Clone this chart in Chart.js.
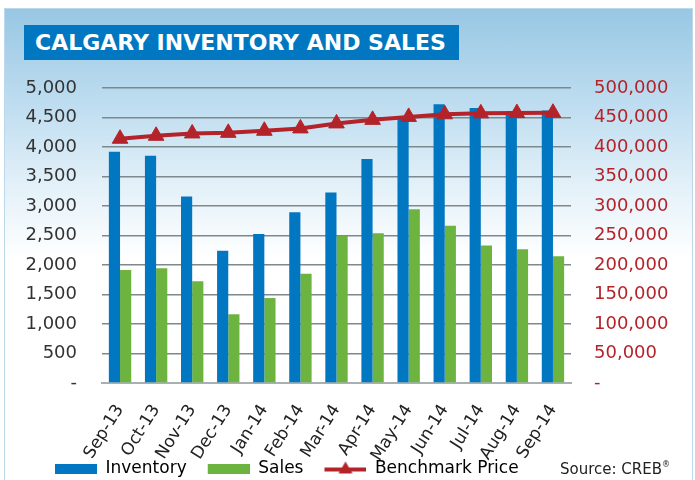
<!DOCTYPE html>
<html>
<head>
<meta charset="utf-8">
<script src="https://cdn.jsdelivr.net/npm/chart.js@4.4.1/dist/chart.umd.min.js"></script>
<style>
  html, body { margin: 0; padding: 0; background: #ffffff; }
  #wrap { position: relative; width: 695px; height: 480px; overflow: hidden; }
  #panel {
    position: absolute; left: 4px; top: 8px; right: 2px; bottom: -2px;
    border: 1px solid #bcd9ec;
    background: linear-gradient(to bottom, #98c7e4 0%, #c2dff1 22%, #e4f1f9 38%, #ffffff 53%, #ffffff 100%);
  }
  #title {
    position: absolute; left: 24px; top: 25px; width: 424px; height: 35px;
    padding-left: 11px; background: #0077c0; color: #ffffff;
    font: bold 22px "DejaVu Sans", sans-serif; line-height: 36px; white-space: nowrap;
  }
  #source {
    position: absolute; left: 560px; top: 460px;
    font: 15px "DejaVu Sans", sans-serif; color: #222222; white-space: nowrap;
  }
  #source sup { font-size: 8px; vertical-align: 7px; }
  canvas { position: absolute; left: 0; top: 0; }
</style>
</head>
<body>
<div id="wrap">
  <div id="panel"></div>
  <div id="title">CALGARY INVENTORY AND SALES</div>
  <canvas id="chart" width="695" height="480"></canvas>
  <div id="source">Source: CREB<sup>®</sup></div>
</div>
<script>
        var months = ['Sep-13', 'Oct-13', 'Nov-13', 'Dec-13', 'Jan-14', 'Feb-14', 'Mar-14',
                      'Apr-14', 'May-14', 'Jun-14', 'Jul-14', 'Aug-14', 'Sep-14'];
        var inventory = [3920, 3850, 3160, 2240, 2525, 2895, 3230, 3795, 4500, 4725, 4660, 4610, 4620];
        var sales = [1915, 1945, 1725, 1165, 1440, 1850, 2490, 2540, 2945, 2665, 2330, 2265, 2150];
        var benchmarkPrice = [414000, 419000, 423000, 424000, 427500, 431500, 440000,
                              446000, 451000, 455500, 457000, 457500, 458000];

        var blue = '#0077c0';
        var green = '#6db33f';
        var red = '#b5232a';

        Chart.defaults.font.family = '"DejaVu Sans", sans-serif';
        Chart.defaults.color = '#2a2a2a';

        // legend swatches, with a transparent strip on the left for item spacing
        function swatch(w, h, draw) {
            var c = document.createElement('canvas');
            c.width = w; c.height = h;
            draw(c.getContext('2d'));
            return c;
        }
        var invBox = swatch(59, 10, function (g) { g.fillStyle = blue; g.fillRect(17, 0, 42, 10); });
        var salesBox = swatch(59, 10, function (g) { g.fillStyle = green; g.fillRect(17, 0, 42, 10); });
        var priceMark = swatch(59, 16, function (g) {
            g.fillStyle = red;
            g.fillRect(17, 7, 42, 4);
            g.beginPath();
            g.moveTo(38, 1); g.lineTo(45, 13); g.lineTo(31, 13);
            g.closePath();
            g.fill();
        });

        function dash(v) {
            return v === 0 ? '-' : v.toLocaleString('en-US');
        }

        // labels reach past their box, do not clip them
        function noClip(scale) {
            scale._computeLabelArea = function () {};
        }

        const ctx = document.getElementById('chart');
        new Chart(ctx, {
            data: {
                labels: months,
                datasets: [{
                    type: 'line',
                    label: 'Benchmark Price',
                    data: benchmarkPrice,
                    yAxisID: 'y1',
                    borderColor: red,
                    borderWidth: 4,
                    pointStyle: 'triangle',
                    pointRadius: 9,
                    pointBackgroundColor: red,
                    pointBorderColor: red,
                    pointBorderWidth: 1,
                    order: 0
                }, {
                    type: 'bar',
                    label: 'Inventory',
                    data: inventory,
                    yAxisID: 'y',
                    backgroundColor: blue,
                    categoryPercentage: 0.62,
                    barPercentage: 1.0,
                    order: 1
                }, {
                    type: 'bar',
                    label: 'Sales',
                    data: sales,
                    yAxisID: 'y',
                    backgroundColor: green,
                    categoryPercentage: 0.62,
                    barPercentage: 1.0,
                    order: 1
                }]
            },
            options: {
                responsive: false,
                animation: false,
                layout: {
                    padding: { top: 88, left: 34, right: 0, bottom: -7 }
                },
                plugins: {
                    tooltip: { enabled: false },
                    legend: {
                        position: 'bottom',
                        align: 'start',
                        labels: {
                            usePointStyle: true,
                            pointStyleWidth: 59,
                            padding: 4,
                            color: '#2a2a2a',
                            font: { size: 17 },
                            generateLabels: function () {
                                return [
                                    { text: 'Inventory', pointStyle: invBox, fillStyle: blue, strokeStyle: blue, lineWidth: 0, hidden: false, datasetIndex: 1 },
                                    { text: 'Sales', pointStyle: salesBox, fillStyle: green, strokeStyle: green, lineWidth: 0, hidden: false, datasetIndex: 2 },
                                    { text: 'Benchmark Price', pointStyle: priceMark, fillStyle: red, strokeStyle: red, lineWidth: 0, hidden: false, datasetIndex: 0 }
                                ];
                            }
                        }
                    }
                },
                scales: {
                    x: {
                        grid: { display: false },
                        border: { color: '#a8b0b2', width: 2 },
                        ticks: {
                            color: '#222222',
                            font: { size: 17 },
                            minRotation: 58,
                            maxRotation: 58,
                            padding: 10
                        },
                        afterFit: function (scale) {
                            scale.height = 73;
                            noClip(scale);
                        }
                    },
                    y: {
                        position: 'left',
                        min: 0,
                        max: 5000,
                        border: { display: false },
                        grid: { color: '#7d8a8b', lineWidth: 1.5, drawTicks: false },
                        ticks: {
                            stepSize: 500,
                            color: '#333333',
                            font: { size: 18 },
                            padding: 25,
                            callback: dash
                        },
                        afterFit: function (scale) {
                            scale.width = 68;
                            noClip(scale);
                        }
                    },
                    y1: {
                        position: 'right',
                        min: 0,
                        max: 500000,
                        border: { display: false },
                        grid: { display: false, drawTicks: false },
                        ticks: {
                            stepSize: 50000,
                            color: red,
                            font: { size: 18 },
                            padding: 23,
                            callback: dash
                        },
                        afterFit: function (scale) { scale.width = 124; }
                    }
                }
            }
        });
</script>
</body>
</html>
